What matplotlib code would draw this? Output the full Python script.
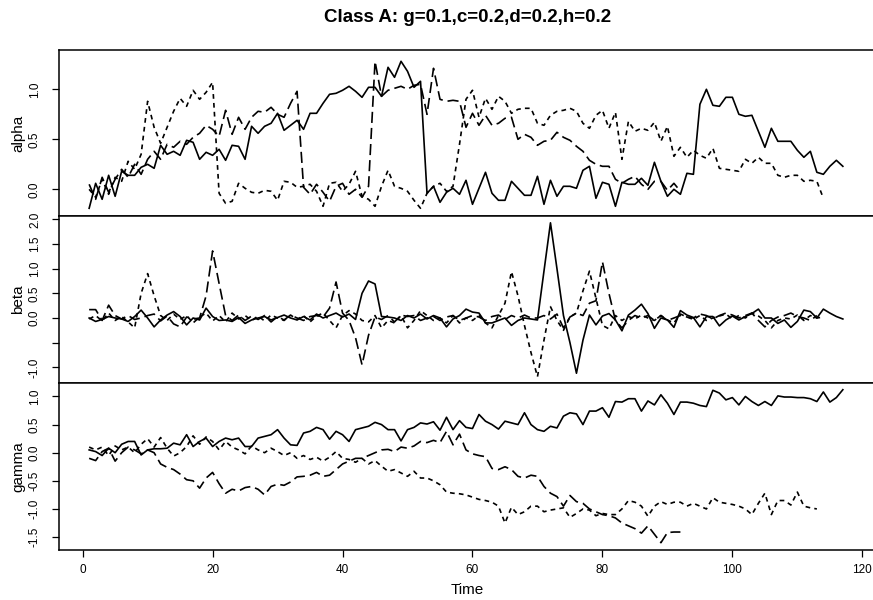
import numpy as np
import matplotlib
matplotlib.use("Agg")
import matplotlib.pyplot as plt

plt.rcParams['font.family'] = ['Liberation Sans', 'DejaVu Sans']
plt.rcParams['lines.scale_dashes'] = False

title = "Class A: g=0.1,c=0.2,d=0.2,h=0.2"
panel_names = ["alpha", "beta", "gamma"]
x_ticks = [0, 20, 40, 60, 80, 100, 120]

alpha_solid = [-0.19, 0.06, -0.10, 0.14, -0.07, 0.18, 0.14, 0.14, 0.22, 0.25,
               0.21, 0.44, 0.35, 0.38, 0.34, 0.49, 0.47, 0.30, 0.37, 0.34,
               0.40, 0.29, 0.44, 0.43, 0.30, 0.63, 0.56, 0.63, 0.66, 0.76,
               0.59, 0.64, 0.69, 0.60, 0.76, 0.76, 0.86, 0.95, 0.96, 0.99,
               1.03, 0.98, 0.92, 1.02, 1.02, 0.93, 1.22, 1.12, 1.28, 1.18,
               1.02, 1.08, -0.04, 0.03, -0.13, -0.03, 0.01, -0.05, 0.09, -0.15,
               0.01, 0.17, -0.04, -0.11, -0.11, 0.08, 0.01, -0.06, -0.06, 0.13,
               -0.15, 0.09, -0.07, 0.03, 0.03, 0.01, 0.19, 0.23, -0.09, 0.07,
               0.05, -0.17, 0.07, 0.05, 0.05, 0.11, 0.04, 0.27, 0.08, -0.07,
               0.00, -0.05, 0.16, 0.15, 0.85, 1.00, 0.84, 0.83, 0.92, 0.92,
               0.75, 0.73, 0.74, 0.58, 0.42, 0.61, 0.48, 0.48, 0.48, 0.39,
               0.32, 0.38, 0.17, 0.15, 0.23, 0.29, 0.23]
alpha_short = [0.00, -0.08, 0.10, -0.05, 0.12, 0.08, 0.28, 0.20, 0.35, 0.88,
               0.62, 0.46, 0.62, 0.78, 0.91, 0.83, 0.99, 0.90, 0.97, 1.07,
               -0.04, -0.14, -0.12, 0.06, 0.01, -0.03, -0.04, -0.01, -0.02, -0.11,
               0.08, 0.07, 0.02, 0.03, 0.05, -0.02, -0.17, 0.06, 0.07, -0.02,
               0.05, 0.18, -0.07, -0.10, -0.17, 0.03, 0.19, 0.03, 0.01, -0.02,
               -0.11, -0.19, -0.04, 0.03, 0.06, -0.02, 0.03, 0.45, 0.90, 0.99,
               0.72, 0.91, 0.80, 0.93, 0.88, 0.76, 0.80, 0.81, 0.81, 0.66,
               0.64, 0.74, 0.78, 0.79, 0.81, 0.78, 0.66, 0.61, 0.74, 0.79,
               0.61, 0.77, 0.30, 0.68, 0.58, 0.61, 0.59, 0.67, 0.48, 0.63,
               0.33, 0.42, 0.32, 0.39, 0.34, 0.31, 0.41, 0.21, 0.20, 0.19,
               0.18, 0.30, 0.26, 0.32, 0.26, 0.26, 0.14, 0.12, 0.14, 0.14,
               0.08, 0.09, 0.08, -0.09]
alpha_long = [0.05, -0.10, 0.12, -0.03, 0.10, 0.20, 0.12, 0.25, 0.15, 0.30,
              0.38, 0.30, 0.45, 0.42, 0.48, 0.45, 0.52, 0.56, 0.64, 0.60,
              0.53, 0.79, 0.55, 0.72, 0.60, 0.72, 0.78, 0.77, 0.82, 0.75,
              0.72, 0.86, 0.98, 0.02, -0.05, 0.05, -0.03, -0.12, 0.03, 0.06,
              -0.05, 0.00, -0.08, 0.03, 1.28, 0.93, 0.99, 1.01, 1.03, 1.00,
              1.04, 1.05, 0.75, 1.21, 0.90, 0.88, 0.89, 0.88, 0.62, 0.76,
              0.64, 0.74, 0.64, 0.66, 0.71, 0.72, 0.50, 0.55, 0.52, 0.44,
              0.48, 0.49, 0.57, 0.52, 0.49, 0.43, 0.38, 0.29, 0.25, 0.23,
              0.23, 0.10, 0.06, 0.10, 0.13, 0.05, 0.00, 0.08, 0.08, -0.01,
              0.06, -0.02]

beta_solid = [0.00, -0.07, -0.03, 0.03, 0.00, -0.02, -0.07, 0.03, 0.16, 0.00,
              -0.18, -0.04, 0.06, 0.13, 0.03, -0.14, 0.00, -0.04, 0.20, 0.03,
              -0.05, -0.04, -0.07, 0.01, -0.11, -0.04, 0.00, 0.03, -0.04, 0.01,
              0.06, 0.00, -0.04, 0.03, -0.04, 0.08, 0.00, 0.05, 0.10, 0.02,
              0.08, -0.03, 0.50, 0.75, 0.69, 0.03, 0.02, 0.00, -0.05, 0.05,
              0.00, 0.08, -0.02, 0.05, 0.00, -0.18, -0.02, 0.05, 0.18, 0.12,
              0.10, -0.10, -0.10, -0.05, 0.00, -0.15, -0.05, 0.00, -0.02, -0.04,
              0.95, 1.93, 1.00, 0.05, -0.50, -1.12, -0.45, 0.06, -0.14, 0.04,
              0.09, -0.04, -0.26, 0.06, 0.16, 0.28, 0.09, -0.21, 0.00, -0.04,
              -0.19, 0.15, 0.06, 0.01, -0.18, 0.03, 0.03, -0.16, -0.04, 0.04,
              -0.04, 0.03, 0.09, 0.18, 0.00, 0.00, -0.11, -0.04, -0.19, -0.07,
              0.16, 0.13, 0.00, 0.18, 0.10, 0.03, -0.02]
beta_short = [-0.02, 0.05, -0.06, 0.10, -0.05, 0.03, -0.08, -0.20, 0.50, 0.90,
              0.45, 0.05, -0.05, 0.08, -0.03, 0.05, -0.10, 0.02, 0.10, -0.06,
              0.05, -0.08, 0.10, -0.02, 0.05, -0.05, 0.04, -0.06, 0.06, 0.00,
              -0.05, 0.06, -0.03, 0.05, -0.08, 0.04, 0.10, -0.05, -0.20, 0.05,
              0.15, 0.08, -0.05, -0.08, 0.05, -0.20, -0.05, -0.10, 0.05, -0.20,
              -0.05, 0.15, 0.05, -0.05, 0.00, -0.10, 0.05, -0.10, 0.00, -0.05,
              0.05, -0.10, -0.20, 0.05, 0.30, 0.94, 0.45, -0.15, -0.70, -1.19,
              -0.45, 0.23, -0.05, -0.25, 0.02, 0.10, 0.55, 0.95, 0.40, -0.15,
              -0.22, 0.05, -0.05, 0.03, -0.02, 0.06, 0.00, -0.05, 0.05, -0.04,
              -0.10, 0.08, 0.02, -0.03, 0.05, -0.05, 0.00, 0.04, 0.08, -0.02,
              0.05, 0.00, 0.10, 0.04, -0.05, -0.20, -0.05, 0.00, -0.02, 0.06,
              -0.05, 0.05, 0.00, 0.02]
beta_long = [0.17, 0.17, -0.05, 0.26, 0.05, -0.02, 0.05, -0.03, 0.00, 0.05,
             0.08, -0.06, 0.04, -0.12, -0.18, 0.02, -0.02, 0.00, 0.45, 1.36,
             0.70, 0.05, -0.05, 0.06, -0.05, 0.04, -0.03, 0.05, -0.08, 0.03,
             -0.04, 0.06, 0.00, -0.05, 0.03, 0.05, 0.02, 0.20, 0.73, 0.10,
             -0.05, -0.40, -0.95, -0.35, 0.02, -0.03, 0.05, -0.08, 0.06, 0.03,
             0.05, -0.05, 0.00, 0.03, -0.05, 0.02, 0.05, -0.05, 0.00, 0.05,
             0.02, -0.05, 0.03, 0.06, -0.03, 0.05, 0.00, 0.06, 0.00, 0.00,
             0.05, -0.02, 0.08, -0.20, 0.02, 0.10, 0.05, 0.30, 0.35, 1.14,
             0.50, -0.05, -0.20, -0.05, 0.05, 0.00, 0.05, -0.05, 0.05, -0.05,
             0.00, 0.05, 0.02, 0.00, 0.08, 0.05, -0.02, 0.05, 0.10, 0.06,
             0.00, 0.05, 0.10, -0.05, -0.18, -0.05, 0.02, 0.05, 0.10, 0.03,
             0.00, -0.05, 0.05]

gamma_solid = [0.05, 0.02, -0.05, 0.08, 0.00, 0.15, 0.20, 0.20, -0.04, 0.05,
               0.07, 0.07, 0.08, 0.17, 0.14, 0.32, 0.11, 0.20, 0.26, 0.11,
               0.20, 0.26, 0.23, 0.26, 0.11, 0.11, 0.26, 0.29, 0.32, 0.41,
               0.26, 0.14, 0.13, 0.35, 0.38, 0.45, 0.41, 0.24, 0.38, 0.32,
               0.20, 0.41, 0.44, 0.47, 0.54, 0.50, 0.41, 0.41, 0.21, 0.41,
               0.45, 0.53, 0.51, 0.55, 0.40, 0.63, 0.41, 0.57, 0.45, 0.43,
               0.68, 0.56, 0.50, 0.42, 0.56, 0.53, 0.50, 0.71, 0.50, 0.41,
               0.38, 0.47, 0.44, 0.65, 0.71, 0.69, 0.50, 0.74, 0.74, 0.80,
               0.63, 0.91, 0.90, 0.96, 0.96, 0.74, 0.92, 0.85, 1.03, 0.88,
               0.68, 0.90, 0.90, 0.88, 0.84, 0.82, 1.11, 1.06, 0.94, 0.98,
               0.85, 1.00, 0.91, 0.84, 0.91, 0.84, 1.01, 0.99, 0.99, 0.98,
               0.98, 0.96, 0.91, 1.08, 0.90, 0.98, 1.12]
gamma_short = [0.10, 0.05, 0.10, -0.05, 0.12, 0.05, 0.10, 0.00, 0.15, 0.25,
               0.10, 0.27, 0.08, -0.06, 0.00, 0.11, 0.30, 0.15, 0.28, 0.20,
               0.05, 0.20, 0.10, 0.05, -0.02, 0.12, 0.05, 0.00, 0.08, 0.02,
               -0.05, 0.00, -0.10, -0.05, -0.12, -0.08, -0.15, -0.08, 0.02, -0.10,
               -0.12, -0.17, -0.10, -0.20, -0.14, -0.24, -0.33, -0.30, -0.36, -0.42,
               -0.33, -0.45, -0.45, -0.50, -0.57, -0.70, -0.72, -0.73, -0.75, -0.79,
               -0.83, -0.85, -0.88, -0.95, -1.25, -0.97, -1.10, -1.05, -0.95, -0.95,
               -1.05, -1.02, -1.00, -0.98, -1.15, -1.08, -1.00, -1.02, -1.12, -1.08,
               -1.10, -1.10, -1.00, -0.85, -0.88, -0.95, -1.13, -0.95, -0.87, -0.92,
               -0.88, -0.88, -0.95, -0.90, -0.95, -1.00, -0.80, -0.88, -0.90, -0.92,
               -0.95, -1.00, -1.10, -0.90, -0.72, -1.10, -0.85, -0.85, -0.93, -0.70,
               -0.95, -0.98, -1.00]
gamma_long = [-0.10, -0.14, 0.02, 0.08, -0.15, 0.00, 0.10, 0.05, -0.02, 0.05,
              0.00, -0.20, -0.26, -0.30, -0.38, -0.48, -0.50, -0.63, -0.45, -0.35,
              -0.55, -0.72, -0.65, -0.68, -0.62, -0.60, -0.65, -0.75, -0.60, -0.56,
              -0.58, -0.52, -0.43, -0.42, -0.40, -0.35, -0.42, -0.40, -0.30, -0.20,
              -0.15, -0.10, -0.10, -0.05, 0.00, 0.05, 0.06, 0.02, 0.10, 0.08,
              0.12, 0.20, 0.18, 0.22, 0.18, 0.38, 0.14, 0.33, 0.05, -0.02,
              -0.05, -0.07, -0.28, -0.30, -0.25, -0.30, -0.42, -0.45, -0.40, -0.42,
              -0.60, -0.72, -0.78, -0.95, -0.76, -0.87, -0.90, -1.00, -1.05, -1.10,
              -1.12, -1.16, -1.25, -1.30, -1.35, -1.43, -1.30, -1.45, -1.60, -1.42,
              -1.41, -1.41]

panels = [
    (alpha_solid, alpha_short, alpha_long),
    (beta_solid, beta_short, beta_long),
    (gamma_solid, gamma_short, gamma_long),
]
yticks = [[0.0, 0.5, 1.0],
          [-1.0, -0.5, 0.0, 0.5, 1.0, 1.5, 2.0],
          [-1.5, -1.0, -0.5, 0.0, 0.5, 1.0]]
yticklabels = [["0.0", "0.5", "1.0"],
               ["-1.0", "", "0.0", "0.5", "1.0", "1.5", "2.0"],
               ["-1.5", "-1.0", "-0.5", "0.0", "0.5", "1.0"]]
ylims = [(-0.267, 1.393), (-1.324, 2.068), (-1.735, 1.234)]

W, H = 873, 600
fig = plt.figure(figsize=(W / 100, H / 100), dpi=100)
edges = [(50, 216), (216, 383.3), (383.3, 550.3)]
left = 59 / W
for i, (top, bot) in enumerate(edges):
    ax = fig.add_axes([left, 1 - bot / H, 1 - left, (bot - top) / H])
    solid, short, long_ = panels[i]
    ax.plot(np.arange(1, len(solid) + 1), solid, color='black', lw=1.2)
    l1, = ax.plot(np.arange(1, len(short) + 1), short, color='black', lw=1.2)
    l1.set_dashes((3.4, 3.0))
    l2, = ax.plot(np.arange(1, len(long_) + 1), long_, color='black', lw=1.2)
    l2.set_dashes((8.0, 3.6))
    ax.set_xlim(-3.64, 121.64)
    ax.set_ylim(*ylims[i])
    ax.set_yticks(yticks[i])
    ax.set_yticklabels(yticklabels[i], rotation=90, va='center', fontsize=8.5)
    ax.spines['right'].set_visible(False)
    for s in ['left', 'top', 'bottom']:
        ax.spines[s].set_linewidth(1.1)
    ax.tick_params(axis='y', direction='out', length=5, width=0.9, pad=8)
    ax.set_xticks(x_ticks)
    if i < 2:
        ax.tick_params(axis='x', which='both', bottom=False, labelbottom=False)
    else:
        ax.set_xticklabels([str(v) for v in x_ticks], fontsize=8.5)
        ax.tick_params(axis='x', direction='out', length=5, width=0.9, pad=5)
    fig.text(18 / W, 1 - ((top + bot) / 2) / H, panel_names[i], rotation=90,
             ha='center', va='center', fontsize=11)

fig.text(468 / W, 1 - 18 / H, title, ha='center', va='center',
         fontsize=13.5, fontweight='bold')
fig.text(467 / W, 1 - 590 / H, "Time", ha='center', va='center', fontsize=11)

fig.savefig("out.png", dpi=100)
